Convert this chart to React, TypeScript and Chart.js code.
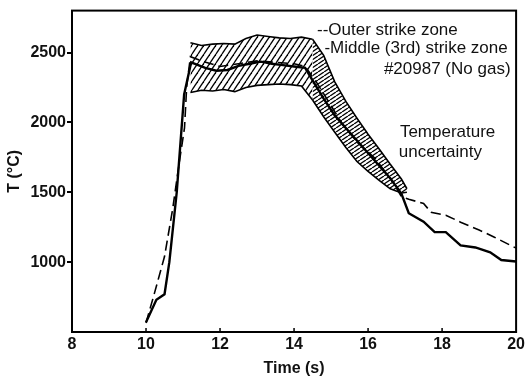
import { useEffect, useRef } from 'react';
import { Chart, registerables } from 'chart.js';

Chart.register(...registerables);

// ---- data ----
const xTicks = [8, 10, 12, 14, 16, 18, 20];
const yTicks = [1000, 1500, 2000, 2500];

const middleTime = [10.0, 10.28, 10.5, 10.63, 10.83, 11.03, 11.22, 11.6, 11.9, 12.2, 12.5, 12.8, 13.1, 13.4, 13.7, 14.0, 14.3, 14.5, 14.8, 15.1, 15.5, 15.8, 16.2, 16.6, 16.9, 17.1, 17.5, 17.8, 18.1, 18.5, 18.9, 19.3, 19.6, 20.0];
const middleTemp = [570, 730, 770, 1000, 1500, 2200, 2430, 2390, 2370, 2375, 2405, 2420, 2435, 2420, 2410, 2400, 2390, 2300, 2170, 2050, 1930, 1840, 1720, 1600, 1490, 1350, 1290, 1215, 1215, 1120, 1105, 1070, 1015, 1005];

const outerTime = [10.0, 10.23, 10.5, 10.72, 10.9, 11.04, 11.1, 11.2, 11.5, 12.0, 12.5, 13.0, 13.5, 14.0, 14.3, 14.6, 15.0, 15.3, 15.7, 16.2, 16.7, 16.9, 17.1, 17.5, 17.7, 18.1, 18.5, 19.0, 19.4, 20.0];
const outerTemp = [565, 780, 1040, 1380, 1716, 1960, 2260, 2470, 2440, 2400, 2420, 2440, 2430, 2420, 2400, 2290, 2120, 1990, 1860, 1740, 1560, 1470, 1450, 1420, 1357, 1336, 1286, 1230, 1180, 1100];

const plateauTime = [11.2, 11.5, 11.8, 12.1, 12.4, 12.7, 13.0, 13.3, 13.6, 13.9, 14.2, 14.5];
const plateauUpper = [2570, 2550, 2560, 2565, 2560, 2600, 2625, 2615, 2605, 2600, 2610, 2595];
const plateauLower = [2214, 2230, 2225, 2235, 2220, 2250, 2265, 2270, 2275, 2270, 2260, 2160];

const declineTime = [14.5, 14.8, 15.1, 15.4, 15.7, 16.0, 16.3, 16.6, 16.9, 17.05];
const declineUpper = [2595, 2480, 2290, 2150, 2030, 1915, 1810, 1700, 1595, 1525];
const declineLower = [2160, 2040, 1930, 1820, 1720, 1650, 1585, 1525, 1495, 1500];

const legendLines = ['--Outer strike zone', '-Middle (3rd) strike zone', '#20987 (No gas)'];
const bandNote = ['Temperature', 'uncertainty'];

const FONT = '"Liberation Sans", Arial, sans-serif';

const pts = (xs: number[], ys: number[]) => xs.map((x, i) => ({ x, y: ys[i] }));

function makeHatch(w: number, h: number, lw: number): CanvasPattern | string {
  const c = document.createElement('canvas');
  c.width = w;
  c.height = h;
  const g = c.getContext('2d');
  if (!g) return '#000';
  g.strokeStyle = '#000';
  g.lineWidth = lw;
  for (const off of [-w, 0, w]) {
    g.beginPath();
    g.moveTo(off, h);
    g.lineTo(off + w, 0);
    g.stroke();
  }
  return g.createPattern(c, 'repeat') || '#000';
}

const framePlugin = {
  id: 'frameAndNotes',
  afterDatasetsDraw(chart: any) {
    const { ctx, chartArea: a, scales } = chart;
    const xs = scales.x;
    const ys = scales.y;
    ctx.save();
    ctx.strokeStyle = '#000';
    ctx.lineWidth = 2;
    ctx.strokeRect(a.left, a.top, a.right - a.left, a.bottom - a.top);
    // inward x tick marks
    ctx.lineWidth = 1.5;
    xTicks.slice(1, -1).forEach((v) => {
      const px = xs.getPixelForValue(v);
      ctx.beginPath();
      ctx.moveTo(px, a.bottom);
      ctx.lineTo(px, a.bottom - 4);
      ctx.stroke();
    });
    // annotations
    ctx.fillStyle = '#111';
    ctx.font = `17px ${FONT}`;
    ctx.textBaseline = 'middle';
    ctx.textAlign = 'left';
    ctx.fillText(legendLines[0], xs.getPixelForValue(14.62), ys.getPixelForValue(2657));
    ctx.fillText(legendLines[1], xs.getPixelForValue(14.82), ys.getPixelForValue(2529));
    ctx.textAlign = 'right';
    ctx.fillText(legendLines[2], xs.getPixelForValue(19.85), ys.getPixelForValue(2379));
    ctx.textAlign = 'left';
    ctx.fillText(bandNote[0], xs.getPixelForValue(16.86), ys.getPixelForValue(1929));
    ctx.fillText(bandNote[1], xs.getPixelForValue(16.83), ys.getPixelForValue(1786));
    ctx.restore();
  },
};

export default function App() {
  const ref = useRef<HTMLCanvasElement | null>(null);

  useEffect(() => {
    if (!ref.current) return;
    const hatchA = makeHatch(6, 9, 1.3);
    const hatchB = makeHatch(6, 4, 1.3);
    const chart = new Chart(ref.current, {
      type: 'line',
      data: {
        datasets: [
          { data: pts(plateauTime, plateauUpper), borderColor: '#000', borderWidth: 1.6, pointRadius: 0, fill: '+1', backgroundColor: hatchA as any },
          { data: pts(plateauTime, plateauLower), borderColor: '#000', borderWidth: 1.6, pointRadius: 0, fill: false },
          { data: pts(declineTime, declineUpper), borderColor: '#000', borderWidth: 1.6, pointRadius: 0, fill: '+1', backgroundColor: hatchB as any },
          { data: pts(declineTime, declineLower), borderColor: '#000', borderWidth: 1.6, pointRadius: 0, fill: false },
          { data: pts(outerTime, outerTemp), borderColor: '#000', borderWidth: 1.6, borderDash: [10, 5], pointRadius: 0, fill: false },
          { data: pts(middleTime, middleTemp), borderColor: '#000', borderWidth: 2.4, pointRadius: 0, fill: false },
        ],
      },
      options: {
        animation: false,
        responsive: false,
        maintainAspectRatio: false,
        layout: { padding: { left: 0, right: 9, top: 10, bottom: 0 } },
        plugins: { legend: { display: false }, tooltip: { enabled: false } },
        scales: {
          x: {
            type: 'linear',
            min: 8,
            max: 20,
            afterBuildTicks: (s: any) => { s.ticks = xTicks.map((value) => ({ value })); },
            afterFit: (s: any) => { s.height = 47; },
            grid: { display: false, drawTicks: false },
            border: { display: true, color: '#000', width: 2 },
            ticks: { color: '#111', padding: 3, callback: (v: any) => String(v), font: { family: FONT, size: 16, weight: 'bold' }, maxRotation: 0 },
            title: { display: true, text: 'Time (s)', color: '#111', padding: { top: 0, bottom: 1 }, font: { family: FONT, size: 16, weight: 'bold' } },
          },
          y: {
            type: 'linear',
            min: 500,
            max: 2800,
            afterBuildTicks: (s: any) => { s.ticks = yTicks.map((value) => ({ value })); },
            afterFit: (s: any) => { s.width = 72; },
            grid: { drawOnChartArea: false, drawTicks: true, tickLength: 5, color: '#000', lineWidth: 2 },
            border: { display: true, color: '#000', width: 2 },
            ticks: { color: '#111', padding: 1, callback: (v: any) => String(v), font: { family: FONT, size: 16, weight: 'bold' } },
            title: { display: true, text: 'T (°C)', color: '#111', padding: { top: 5, bottom: 0 }, font: { family: FONT, size: 16, weight: 'bold' } },
          },
        },
      },
      plugins: [framePlugin],
    });
    return () => chart.destroy();
  }, []);

  return (
    <div style={{ position: 'fixed', left: 0, top: 0, width: 528, height: 379, background: '#fff' }}>
      <canvas ref={ref} width={528} height={379} style={{ width: 528, height: 379, display: 'block' }} />
    </div>
  );
}
